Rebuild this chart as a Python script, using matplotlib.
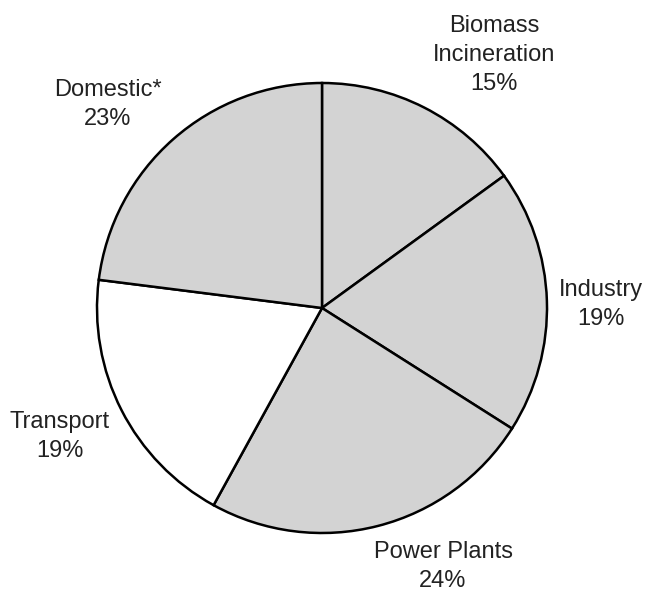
import matplotlib.pyplot as plt

labels = ['Biomass\nIncineration', 'Industry', 'Power Plants', 'Transport', 'Domestic*']
shares = [15, 19, 24, 19, 23]
colors = ['#d3d3d3', '#d3d3d3', '#d3d3d3', '#ffffff', '#d3d3d3']

# label anchors: centre x and baseline of last line (pixels, y from top)
label_pos = [(494, 90), (601, 325), (443, 587), (60, 457), (108, 125)]

plt.rcParams['font.family'] = ['Liberation Sans', 'DejaVu Sans']

fig = plt.figure(figsize=(6.47, 5.93), dpi=100)
ax = fig.add_axes([0, 0, 1, 1])

ax.pie(shares, colors=colors, startangle=90, counterclock=False,
       center=(322, 593 - 308), radius=225,
       wedgeprops=dict(edgecolor='black', linewidth=1.8))

ax.set_xlim(0, 647)
ax.set_ylim(0, 593)
ax.set_aspect('equal')
ax.axis('off')

for lab, val, (x, y) in zip(labels, shares, label_pos):
    ax.text(x, 593 - y, '%s\n%d%%' % (lab, val), ha='center', va='baseline',
            multialignment='center', fontsize=17, linespacing=1.42,
            color='#222222')

fig.savefig('out.png', dpi=100)
